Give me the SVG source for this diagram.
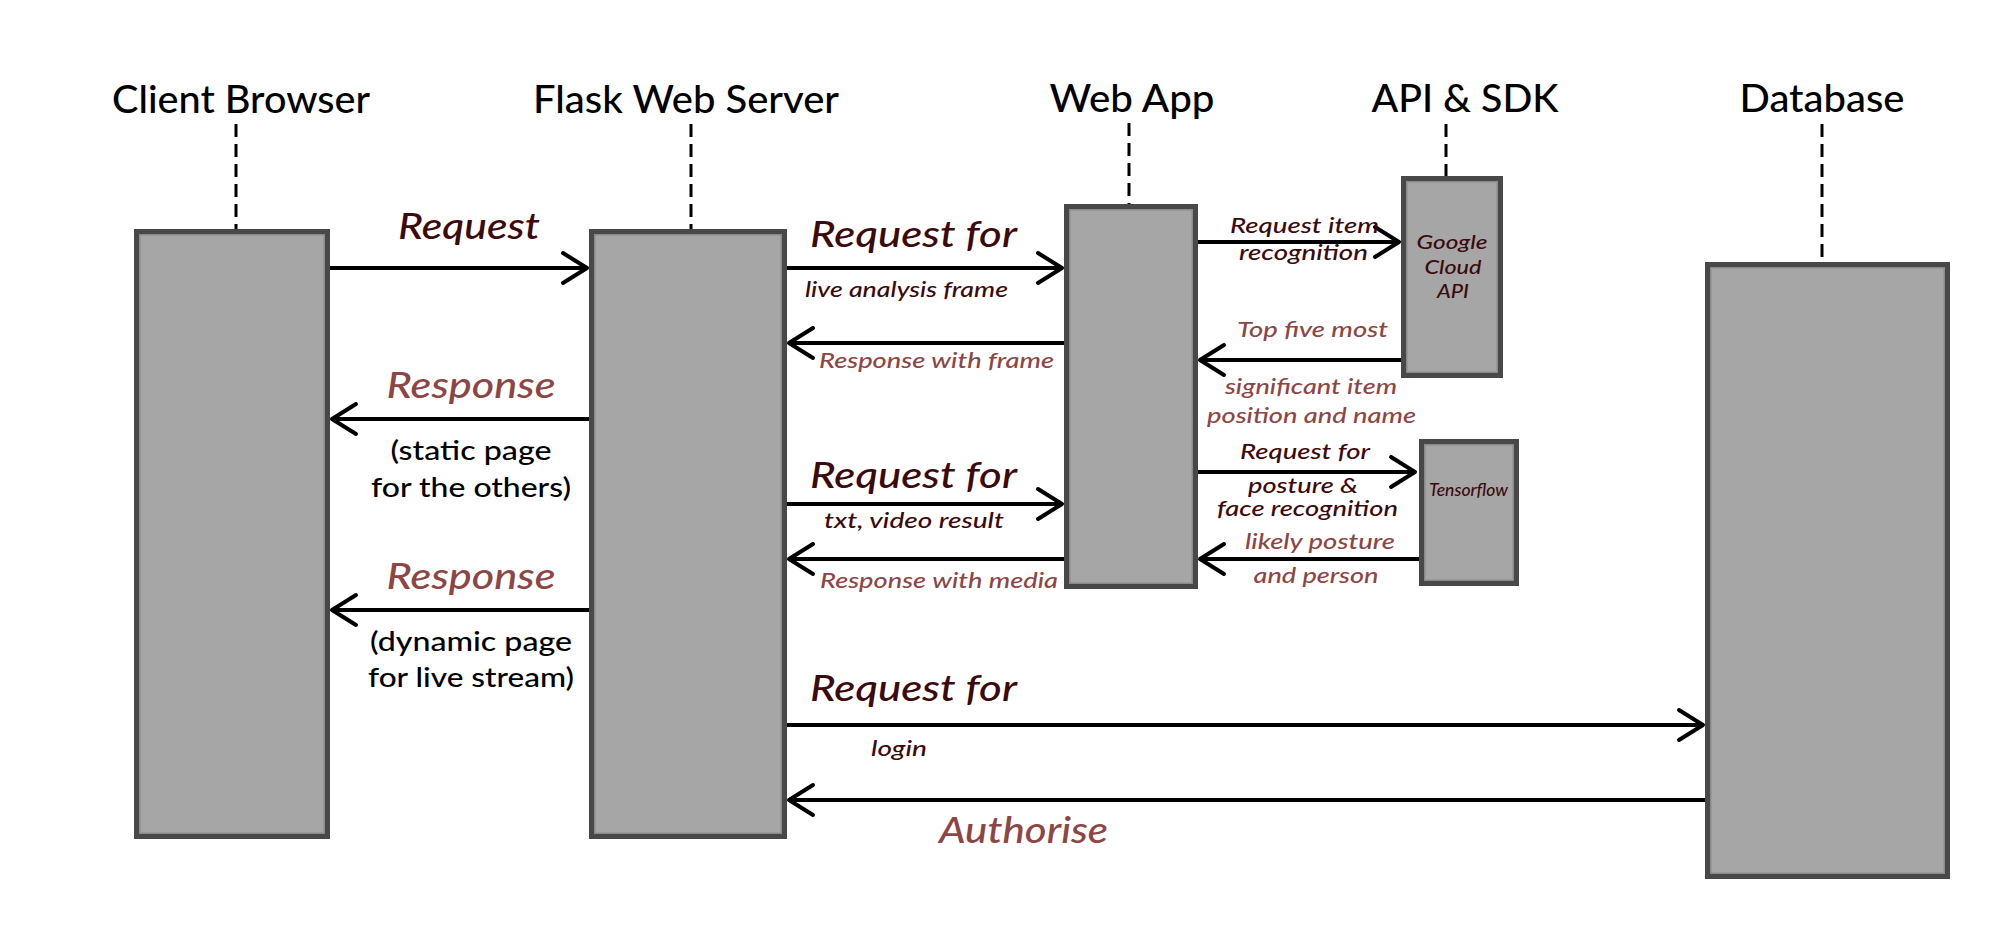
<svg xmlns="http://www.w3.org/2000/svg" width="2016" height="952" viewBox="0 0 2016 952">
<style>
.bg{fill:#ffffff}
.box{fill:#a6a6a6;stroke:#484848;stroke-width:5}
.inner{fill:none;stroke:#8a8a8a;stroke-width:1.5}
.life{stroke:#000;stroke-width:3;stroke-dasharray:13 7;fill:none}
.conn{stroke:#000;stroke-width:4;fill:none;marker-end:url(#arr)}
.title{font-family:Lato,"Liberation Sans",sans-serif;font-weight:500;font-size:38px;fill:#000;text-anchor:middle}
.big{font-family:Lato,"Liberation Sans",sans-serif;font-weight:500;font-style:italic;font-size:36px}
.mid{font-family:Lato,"Liberation Sans",sans-serif;font-weight:500;font-size:27px;fill:#000;text-anchor:middle}
.sm{font-family:Lato,"Liberation Sans",sans-serif;font-weight:500;font-style:italic;font-size:22px}
.dark{fill:#3b0a0c}
.rose{fill:#8c4646}
.c{text-anchor:middle}
</style>
<defs>
<marker id="arr" markerUnits="userSpaceOnUse" markerWidth="40" markerHeight="40" viewBox="-30 -20 36 40" refX="0" refY="0" orient="auto">
<path d="M-24,-15 L0,0 L-24,15" fill="none" stroke="#000" stroke-width="4" stroke-linecap="round" stroke-linejoin="round"/>
</marker>
</defs>
<rect class="bg" x="0" y="0" width="2016" height="952"/>

<g id="lifelines">
<line class="life" x1="236" y1="124" x2="236" y2="229"/>
<line class="life" x1="691" y1="124" x2="691" y2="229"/>
<line class="life" x1="1129" y1="123" x2="1129" y2="204"/>
<line class="life" x1="1446" y1="124" x2="1446" y2="176"/>
<line class="life" x1="1822" y1="124" x2="1822" y2="262"/>
</g>

<g id="client-browser">
<text class="title" x="241" y="113" textLength="258" lengthAdjust="spacingAndGlyphs">Client Browser</text>
<rect class="box" x="136.5" y="231.5" width="191" height="605"/>
<rect class="inner" x="139.75" y="234.75" width="184.5" height="598.5"/>
</g>

<g id="flask-web-server">
<text class="title" x="686" y="113" textLength="306" lengthAdjust="spacingAndGlyphs">Flask Web Server</text>
<rect class="box" x="591.5" y="231.5" width="193" height="605"/>
<rect class="inner" x="594.75" y="234.75" width="186.5" height="598.5"/>
</g>

<g id="web-app">
<text class="title" x="1132" y="112" textLength="165" lengthAdjust="spacingAndGlyphs">Web App</text>
<rect class="box" x="1066.5" y="206.5" width="129" height="380"/>
<rect class="inner" x="1069.75" y="209.75" width="122.5" height="373.5"/>
</g>

<g id="api-sdk">
<text class="title" x="1465" y="112" textLength="187" lengthAdjust="spacingAndGlyphs">API &amp; SDK</text>
</g>

<g id="google-cloud-api">
<rect class="box" x="1403.5" y="178.5" width="97" height="197"/>
<rect class="inner" x="1406.75" y="181.75" width="90.5" height="190.5"/>
<text class="sm dark c" style="font-size:20px" x="1452" y="249" textLength="71" lengthAdjust="spacingAndGlyphs">Google</text>
<text class="sm dark c" style="font-size:20px" x="1453" y="274" textLength="57" lengthAdjust="spacingAndGlyphs">Cloud</text>
<text class="sm dark c" style="font-size:20px" x="1453" y="298" textLength="32" lengthAdjust="spacingAndGlyphs">API</text>
</g>

<g id="tensorflow">
<rect class="box" x="1421.5" y="441.5" width="95" height="142"/>
<rect class="inner" x="1424.75" y="444.75" width="88.5" height="135.5"/>
<text class="sm dark c" style="font-size:17px" x="1468.5" y="496" textLength="79" lengthAdjust="spacingAndGlyphs">Tensorflow</text>
</g>

<g id="database">
<text class="title" x="1822" y="112" textLength="165" lengthAdjust="spacingAndGlyphs">Database</text>
<rect class="box" x="1707.5" y="264.5" width="240" height="612"/>
<rect class="inner" x="1710.75" y="267.75" width="233.5" height="605.5"/>
</g>

<g id="connectors">
<line class="conn" x1="330" y1="268" x2="587" y2="268"/>
<line class="conn" x1="589" y1="419" x2="332" y2="419"/>
<line class="conn" x1="589" y1="610" x2="332" y2="610"/>
<line class="conn" x1="787" y1="268" x2="1062" y2="268"/>
<line class="conn" x1="1064" y1="343" x2="789" y2="343"/>
<line class="conn" x1="787" y1="504" x2="1062" y2="504"/>
<line class="conn" x1="1064" y1="559" x2="789" y2="559"/>
<line class="conn" x1="787" y1="725" x2="1703" y2="725"/>
<line class="conn" x1="1705" y1="800" x2="789" y2="800"/>
<line class="conn" x1="1198" y1="242" x2="1399" y2="242"/>
<line class="conn" x1="1401" y1="360" x2="1200" y2="360"/>
<line class="conn" x1="1198" y1="472" x2="1415" y2="472"/>
<line class="conn" x1="1419" y1="559" x2="1200" y2="559"/>
</g>

<g id="labels">
<text class="big dark c" x="469" y="239" textLength="142" lengthAdjust="spacingAndGlyphs">Request</text>
<text class="big rose c" x="471" y="398" textLength="169" lengthAdjust="spacingAndGlyphs">Response</text>
<text class="mid" x="471" y="460" textLength="161" lengthAdjust="spacingAndGlyphs">(static page</text>
<text class="mid" x="471" y="497" textLength="200" lengthAdjust="spacingAndGlyphs">for the others)</text>
<text class="big rose c" x="471" y="589" textLength="169" lengthAdjust="spacingAndGlyphs">Response</text>
<text class="mid" x="471" y="651" textLength="202" lengthAdjust="spacingAndGlyphs">(dynamic page</text>
<text class="mid" x="471" y="687" textLength="206" lengthAdjust="spacingAndGlyphs">for live stream)</text>

<text class="big dark" x="810" y="247" textLength="207" lengthAdjust="spacingAndGlyphs">Request for</text>
<text class="sm dark" x="805" y="297" textLength="203" lengthAdjust="spacingAndGlyphs">live analysis frame</text>
<text class="sm rose" x="819" y="368" textLength="235" lengthAdjust="spacingAndGlyphs">Response with frame</text>
<text class="big dark" x="810" y="488" textLength="207" lengthAdjust="spacingAndGlyphs">Request for</text>
<text class="sm dark" x="824" y="528" textLength="180" lengthAdjust="spacingAndGlyphs">txt, video result</text>
<text class="sm rose" x="820" y="588" textLength="238" lengthAdjust="spacingAndGlyphs">Response with media</text>
<text class="big dark" x="810" y="701" textLength="207" lengthAdjust="spacingAndGlyphs">Request for</text>
<text class="sm dark" x="871" y="756" textLength="56" lengthAdjust="spacingAndGlyphs">login</text>
<text class="big rose" x="939" y="843" textLength="169" lengthAdjust="spacingAndGlyphs">Authorise</text>

<text class="sm dark c" x="1304.5" y="233" textLength="149" lengthAdjust="spacingAndGlyphs">Request item</text>
<text class="sm dark c" x="1303.5" y="260" textLength="129" lengthAdjust="spacingAndGlyphs">recognition</text>
<text class="sm rose c" x="1312.5" y="337" textLength="151" lengthAdjust="spacingAndGlyphs">Top five most</text>
<text class="sm rose c" x="1311" y="394" textLength="172" lengthAdjust="spacingAndGlyphs">significant item</text>
<text class="sm rose c" x="1311.5" y="423" textLength="209" lengthAdjust="spacingAndGlyphs">position and name</text>
<text class="sm dark c" x="1305" y="459" textLength="130" lengthAdjust="spacingAndGlyphs">Request for</text>
<text class="sm dark c" x="1303" y="493" textLength="110" lengthAdjust="spacingAndGlyphs">posture &amp;</text>
<text class="sm dark c" x="1307.5" y="516" textLength="181" lengthAdjust="spacingAndGlyphs">face recognition</text>
<text class="sm rose c" x="1320" y="549" textLength="150" lengthAdjust="spacingAndGlyphs">likely posture</text>
<text class="sm rose c" x="1316" y="583" textLength="125" lengthAdjust="spacingAndGlyphs">and person</text>
</g>
</svg>
